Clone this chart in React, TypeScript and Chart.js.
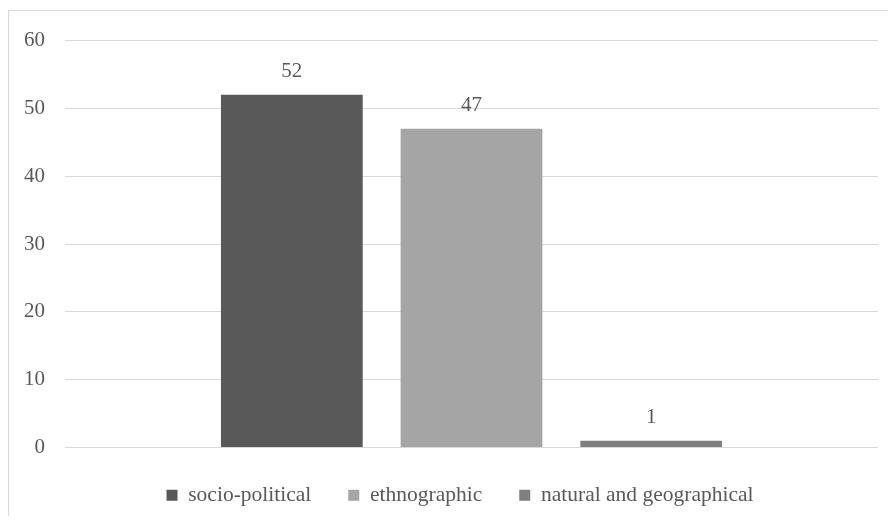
import React, { useEffect, useRef } from "react";
import { Chart, registerables } from "chart.js";

Chart.register(...registerables);

// Source counts by category of origin
const categories = [""];
const seriesNames = ["socio-political", "ethnographic", "natural and geographical"];
const seriesValues = [[52], [47], [1]];
const seriesColors = ["#595959", "#a5a5a5", "#7f7f7f"];
const yTicks = [0, 10, 20, 30, 40, 50, 60];

const FONT_FAMILY = '"Liberation Serif", "Times New Roman", serif';
const TEXT_COLOR = "#595959";

// Writes each bar's value just above it
const valueLabels = {
  id: "valueLabels",
  afterDatasetsDraw(chart: any) {
    const ctx = chart.ctx;
    ctx.save();
    ctx.font = `21px ${FONT_FAMILY}`;
    ctx.fillStyle = TEXT_COLOR;
    ctx.textAlign = "center";
    ctx.textBaseline = "middle";
    chart.data.datasets.forEach((ds: any, i: number) => {
      const meta = chart.getDatasetMeta(i);
      meta.data.forEach((bar: any, j: number) => {
        ctx.fillText(String(ds.data[j]), bar.x, bar.y - 23);
      });
    });
    ctx.restore();
  },
};

// Centres the legend row under the plot area rather than the whole canvas
const legendCentre = {
  id: "legendCentre",
  afterLayout(chart: any) {
    if (chart.legend) {
      chart.legend.left = chart.chartArea.left - 23;
    }
  },
};

export default function App() {
  const canvasRef = useRef<HTMLCanvasElement | null>(null);

  useEffect(() => {
    if (!canvasRef.current) return;
    const chart = new Chart(canvasRef.current, {
      type: "bar",
      data: {
        labels: categories,
        datasets: seriesNames.map((name, i) => ({
          label: name,
          data: seriesValues[i],
          backgroundColor: seriesColors[i],
          borderWidth: 0,
          categoryPercentage: 0.663,
          barPercentage: 0.789,
        })),
      },
      options: {
        responsive: false,
        animation: false,
        layout: { padding: { top: 30, left: 10, right: 10, bottom: 0 } },
        scales: {
          x: { display: false },
          y: {
            min: 0,
            max: 60,
            afterBuildTicks: (scale: any) => {
              scale.ticks = yTicks.map((v) => ({ value: v }));
            },
            afterFit: (scale: any) => {
              scale.width = 47;
            },
            grid: { color: "#d9d9d9", lineWidth: 1, drawTicks: false },
            border: { display: false },
            ticks: {
              padding: 20,
              color: TEXT_COLOR,
              font: { family: FONT_FAMILY, size: 21 },
            },
          },
        },
        plugins: {
          tooltip: { enabled: false },
          legend: {
            position: "bottom",
            labels: {
              boxWidth: 11,
              boxHeight: 11,
              padding: 37,
              color: TEXT_COLOR,
              font: { family: FONT_FAMILY, size: 21.5 },
            },
          },
        },
      },
      plugins: [valueLabels, legendCentre],
    });
    return () => chart.destroy();
  }, []);

  return (
    <div style={{ position: "relative", width: 880, height: 508, overflow: "hidden" }}>
      <div
        style={{
          position: "absolute",
          left: 0,
          top: 2,
          width: 880,
          height: 520,
          borderTop: "1px solid #d9d9d9",
          borderLeft: "1px solid #d9d9d9",
          boxSizing: "border-box",
        }}
      />
      <canvas
        ref={canvasRef}
        width={880}
        height={508}
        style={{ position: "absolute", left: 0, top: 0 }}
      />
    </div>
  );
}
